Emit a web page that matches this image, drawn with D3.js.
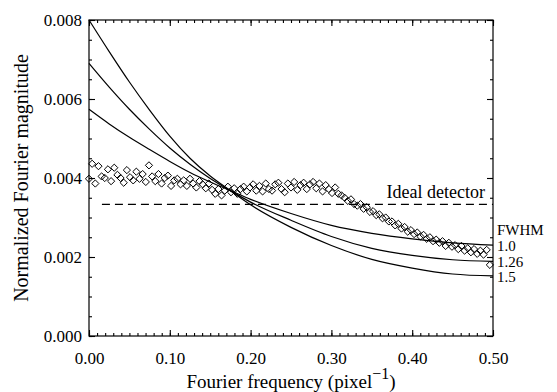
<!DOCTYPE html>
<html>
<head>
<meta charset="utf-8">
<script src="https://cdn.jsdelivr.net/npm/d3@7"></script>
<style>
  body { margin: 0; background: #fff; }
  svg, svg text { font-family: "Liberation Serif", "Times New Roman", serif; }
</style>
</head>
<body>
<div id="chart"></div>
<script>
// measured Fourier magnitudes (diamonds), one per bin, bins 1/256 pixel^-1 apart
const freqStep = 1 / 256;
const measured = [
    0.00398, 0.00436, 0.00386, 0.00430, 0.00404, 0.00400, 0.00422, 0.00392, 0.00426, 0.00408,
    0.00400, 0.00388, 0.00420, 0.00402, 0.00394, 0.00416, 0.00398, 0.00410, 0.00390, 0.00432,
    0.00404, 0.00392, 0.00410, 0.00386, 0.00400, 0.00406, 0.00380, 0.00394, 0.00398, 0.00384,
    0.00394, 0.00380, 0.00398, 0.00386, 0.00376, 0.00392, 0.00384, 0.00374, 0.00386, 0.00370,
    0.00360, 0.00372, 0.00356, 0.00368, 0.00378, 0.00364, 0.00374, 0.00360, 0.00372, 0.00378,
    0.00366, 0.00376, 0.00384, 0.00368, 0.00380, 0.00366, 0.00386, 0.00372, 0.00368, 0.00384,
    0.00388, 0.00372, 0.00364, 0.00386, 0.00376, 0.00390, 0.00370, 0.00382, 0.00388, 0.00372,
    0.00384, 0.00390, 0.00374, 0.00386, 0.00366, 0.00382, 0.00372, 0.00362, 0.00376, 0.00360,
    0.00356, 0.00350, 0.00342, 0.00346, 0.00334, 0.00330, 0.00334, 0.00322, 0.00326, 0.00314,
    0.00316, 0.00306, 0.00308, 0.00298, 0.00300, 0.00290, 0.00290, 0.00280, 0.00284, 0.00272,
    0.00276, 0.00264, 0.00268, 0.00258, 0.00262, 0.00252, 0.00256, 0.00246, 0.00250, 0.00240,
    0.00244, 0.00236, 0.00240, 0.00228, 0.00236, 0.00226, 0.00230, 0.00220, 0.00228, 0.00216,
    0.00222, 0.00212, 0.00220, 0.00208, 0.00216, 0.00206, 0.00218, 0.00180
];

// model curves for the three FWHM values, sampled at curveFreqs
const curveFreqs = [0, 0.025, 0.05, 0.075, 0.10, 0.125, 0.15, 0.175, 0.20, 0.25, 0.30, 0.35, 0.40, 0.45, 0.50];
const fwhm10  = [0.00574, 0.00537, 0.00503, 0.00472, 0.00442, 0.00414, 0.00390, 0.00368, 0.00346, 0.00310, 0.00280, 0.00260, 0.00246, 0.00236, 0.00230];
const fwhm126 = [0.00690, 0.00630, 0.00574, 0.00523, 0.00476, 0.00435, 0.00399, 0.00368, 0.00339, 0.00293, 0.00252, 0.00222, 0.00204, 0.00193, 0.00189];
const fwhm15  = [0.00800, 0.00720, 0.00643, 0.00572, 0.00506, 0.00450, 0.00405, 0.00368, 0.00332, 0.00275, 0.00229, 0.00194, 0.00172, 0.00157, 0.00152];
const fwhmLabels = ['1.0', '1.26', '1.5'];

// ideal detector level (dashed)
const idealLevel = 0.00333;
const idealFrom = 0.016;

const xTicks = [0, 0.1, 0.2, 0.3, 0.4, 0.5];
const yTicks = [0, 0.002, 0.004, 0.006, 0.008];

const serif = '"Liberation Serif", "Times New Roman", serif';
const width = 557, height = 392;
const margin = { top: 20, right: 64, bottom: 56, left: 89 };
const innerW = width - margin.left - margin.right;
const innerH = height - margin.top - margin.bottom;

const svg = d3.select('#chart').append('svg')
    .attr('width', width)
    .attr('height', height)
    .style('font-family', serif);

const g = svg.append('g')
    .attr('transform', `translate(${margin.left},${margin.top})`);

const x = d3.scaleLinear().domain([0, 0.5]).range([0, innerW]);
const y = d3.scaleLinear().domain([0, 0.008]).range([innerH, 0]);

// ticks all point inward, minor ones shorter
const xMinor = d3.range(0, 0.5001, 0.01);
const yMinor = d3.range(0, 0.00801, 0.0005);
const fmtX = d3.format('.2f');
const fmtY = d3.format('.3f');

function styleAxis(sel) {
    sel.attr('font-family', null);
    sel.select('.domain').remove();
    sel.selectAll('line').attr('stroke', '#000').attr('stroke-width', 1.1);
    sel.selectAll('text').attr('fill', '#000')
        .style('font-size', '17px')
        .style('font-family', serif);
}

g.append('g').attr('transform', `translate(0,${innerH})`)
    .call(d3.axisBottom(x).tickValues(xMinor).tickSize(-3).tickFormat(''))
    .call(styleAxis);
g.append('g').attr('transform', `translate(0,${innerH})`)
    .call(d3.axisBottom(x).tickValues(xTicks).tickSize(-6).tickPadding(16).tickFormat(fmtX))
    .call(styleAxis);
g.append('g')
    .call(d3.axisTop(x).tickValues(xMinor).tickSize(-3).tickFormat(''))
    .call(styleAxis);
g.append('g')
    .call(d3.axisTop(x).tickValues(xTicks).tickSize(-6).tickFormat(''))
    .call(styleAxis);

g.append('g')
    .call(d3.axisLeft(y).tickValues(yMinor).tickSize(-3).tickFormat(''))
    .call(styleAxis);
g.append('g')
    .call(d3.axisLeft(y).tickValues(yTicks).tickSize(-6).tickPadding(7).tickFormat(fmtY))
    .call(styleAxis);
g.append('g').attr('transform', `translate(${innerW},0)`)
    .call(d3.axisRight(y).tickValues(yMinor).tickSize(-3).tickFormat(''))
    .call(styleAxis);
g.append('g').attr('transform', `translate(${innerW},0)`)
    .call(d3.axisRight(y).tickValues(yTicks).tickSize(-6).tickFormat(''))
    .call(styleAxis);

g.append('rect')
    .attr('width', innerW).attr('height', innerH)
    .attr('fill', 'none').attr('stroke', '#000').attr('stroke-width', 1.2);

// ideal detector dashed line
g.append('line')
    .attr('x1', x(idealFrom)).attr('x2', x(0.5))
    .attr('y1', y(idealLevel)).attr('y2', y(idealLevel))
    .attr('stroke', '#000').attr('stroke-width', 1.2)
    .attr('stroke-dasharray', '8,5');

// model curves
const line = d3.line()
    .x((d, i) => x(curveFreqs[i]))
    .y(d => y(d))
    .curve(d3.curveMonotoneX);

g.selectAll('path.model')
    .data([fwhm10, fwhm126, fwhm15])
    .join('path')
    .classed('model', true)
    .attr('d', line)
    .attr('fill', 'none')
    .attr('stroke', '#000')
    .attr('stroke-width', 1.2);

// measured points as open diamonds
const r = 3.6;
const diamond = `M0,${-r}L${r},0L0,${r}L${-r},0Z`;
g.selectAll('path.point')
    .data(measured)
    .join('path')
    .classed('point', true)
    .attr('transform', (d, i) => `translate(${x(i * freqStep)},${y(d)})`)
    .attr('d', diamond)
    .attr('fill', 'none')
    .attr('stroke', '#000')
    .attr('stroke-width', 1);

// labels
g.append('text')
    .attr('x', innerW - 8).attr('y', y(idealLevel) - 6)
    .attr('text-anchor', 'end')
    .style('font-size', '18px')
    .text('Ideal detector');

const labelX = innerW + 4;
g.append('text')
    .attr('x', labelX).attr('y', 215)
    .style('font-size', '15px')
    .text('FWHM');
g.selectAll('text.fwhm')
    .data(fwhmLabels)
    .join('text')
    .classed('fwhm', true)
    .attr('x', labelX)
    .attr('y', (d, i) => 231 + i * 15.5)
    .style('font-size', '15px')
    .text(d => d);

// axis titles
const xt = svg.append('text')
    .attr('x', margin.left + innerW / 2)
    .attr('y', 388)
    .attr('text-anchor', 'middle')
    .style('font-size', '19px');
xt.append('tspan').text('Fourier frequency (pixel');
xt.append('tspan').attr('dy', -9).style('font-size', '16px').text('\u22121');
xt.append('tspan').attr('dy', 9).text(')');

svg.append('text')
    .attr('transform', `translate(28,${margin.top + innerH / 2}) rotate(-90)`)
    .attr('text-anchor', 'middle')
    .style('font-size', '20px')
    .text('Normalized Fourier magnitude');
</script>
</body>
</html>
